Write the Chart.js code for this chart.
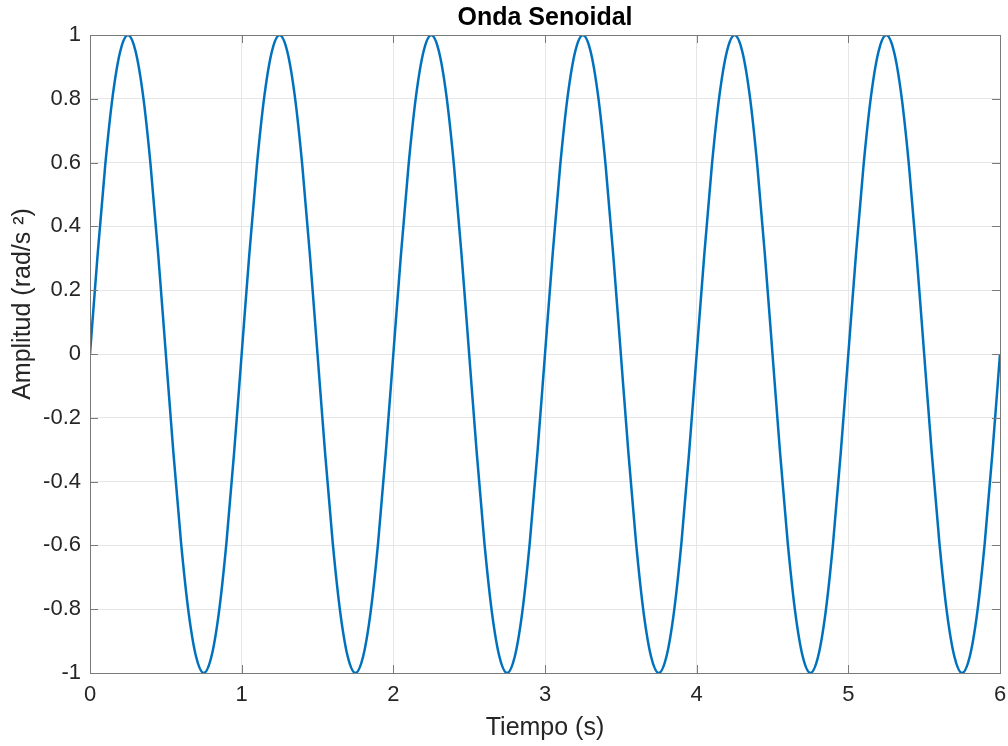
<!DOCTYPE html>
<html>
<head>
<meta charset="utf-8">
<script src="https://cdn.jsdelivr.net/npm/chart.js@4"></script>
<style>
  html, body { margin: 0; padding: 0; background: #fff; }
  #wrap { width: 1008px; height: 746px; }
</style>
</head>
<body>
<div id="wrap"><canvas id="chartSeno" width="1008" height="746"></canvas></div>
<script>
// tiempo (s), leído cada 0.05 s
const tiempo = [
  0, 0.05, 0.1, 0.15, 0.2, 0.25, 0.3, 0.35, 0.4, 0.45,
  0.5, 0.55, 0.6, 0.65, 0.7, 0.75, 0.8, 0.85, 0.9, 0.95,
  1, 1.05, 1.1, 1.15, 1.2, 1.25, 1.3, 1.35, 1.4, 1.45,
  1.5, 1.55, 1.6, 1.65, 1.7, 1.75, 1.8, 1.85, 1.9, 1.95,
  2, 2.05, 2.1, 2.15, 2.2, 2.25, 2.3, 2.35, 2.4, 2.45,
  2.5, 2.55, 2.6, 2.65, 2.7, 2.75, 2.8, 2.85, 2.9, 2.95,
  3, 3.05, 3.1, 3.15, 3.2, 3.25, 3.3, 3.35, 3.4, 3.45,
  3.5, 3.55, 3.6, 3.65, 3.7, 3.75, 3.8, 3.85, 3.9, 3.95,
  4, 4.05, 4.1, 4.15, 4.2, 4.25, 4.3, 4.35, 4.4, 4.45,
  4.5, 4.55, 4.6, 4.65, 4.7, 4.75, 4.8, 4.85, 4.9, 4.95,
  5, 5.05, 5.1, 5.15, 5.2, 5.25, 5.3, 5.35, 5.4, 5.45,
  5.5, 5.55, 5.6, 5.65, 5.7, 5.75, 5.8, 5.85, 5.9, 5.95,
  6
];

// amplitud (rad/s²)
const amplitud = [
  0, 0.31, 0.59, 0.81, 0.95, 1, 0.95, 0.81, 0.59, 0.31,
  0, -0.31, -0.59, -0.81, -0.95, -1, -0.95, -0.81, -0.59, -0.31,
  0, 0.31, 0.59, 0.81, 0.95, 1, 0.95, 0.81, 0.59, 0.31,
  0, -0.31, -0.59, -0.81, -0.95, -1, -0.95, -0.81, -0.59, -0.31,
  0, 0.31, 0.59, 0.81, 0.95, 1, 0.95, 0.81, 0.59, 0.31,
  0, -0.31, -0.59, -0.81, -0.95, -1, -0.95, -0.81, -0.59, -0.31,
  0, 0.31, 0.59, 0.81, 0.95, 1, 0.95, 0.81, 0.59, 0.31,
  0, -0.31, -0.59, -0.81, -0.95, -1, -0.95, -0.81, -0.59, -0.31,
  0, 0.31, 0.59, 0.81, 0.95, 1, 0.95, 0.81, 0.59, 0.31,
  0, -0.31, -0.59, -0.81, -0.95, -1, -0.95, -0.81, -0.59, -0.31,
  0, 0.31, 0.59, 0.81, 0.95, 1, 0.95, 0.81, 0.59, 0.31,
  0, -0.31, -0.59, -0.81, -0.95, -1, -0.95, -0.81, -0.59, -0.31,
  0
];

const xTicks = [0, 1, 2, 3, 4, 5, 6];
const yTicks = [-1, -0.8, -0.6, -0.4, -0.2, 0, 0.2, 0.4, 0.6, 0.8, 1];
const yTitulo = "Amplitud (rad/s ²)";

const puntos = tiempo.map((t, i) => ({ x: t, y: amplitud[i] }));

const fuente = "Liberation Sans, Arial";

// caja alrededor del área, marcas hacia dentro (estilo MATLAB) y título del eje y
const cajaPlugin = {
  id: "caja",
  afterDraw(chart) {
    const { ctx, chartArea: a, scales } = chart;
    ctx.save();
    ctx.strokeStyle = "#7a7a7a";
    ctx.lineWidth = 1;
    ctx.beginPath();
    xTicks.forEach(v => {
      const px = Math.round(scales.x.getPixelForValue(v)) + 0.5;
      ctx.moveTo(px, a.bottom); ctx.lineTo(px, a.bottom - 8);
      ctx.moveTo(px, a.top); ctx.lineTo(px, a.top + 8);
    });
    yTicks.forEach(v => {
      const py = Math.round(scales.y.getPixelForValue(v)) + 0.5;
      ctx.moveTo(a.left, py); ctx.lineTo(a.left + 8, py);
      ctx.moveTo(a.right, py); ctx.lineTo(a.right - 8, py);
    });
    ctx.stroke();
    ctx.strokeRect(Math.round(a.left) + 0.5, Math.round(a.top) + 0.5,
      Math.round(a.right - a.left), Math.round(a.bottom - a.top));

    // el título del eje y queda algo por encima del centro en el original
    ctx.translate(23, 304);
    ctx.rotate(-Math.PI / 2);
    ctx.fillStyle = "#262626";
    ctx.font = "25px " + fuente;
    ctx.textAlign = "center";
    ctx.textBaseline = "middle";
    ctx.fillText(yTitulo, 0, 0);
    ctx.restore();
  }
};

const ctxSeno = document.getElementById("chartSeno").getContext("2d");
new Chart(ctxSeno, {
  type: "line",
  data: {
    datasets: [{
      label: "Seno",
      data: puntos,
      borderColor: "#0072BD",
      borderWidth: 2.5,
      pointRadius: 0,
      fill: false,
      cubicInterpolationMode: "monotone"
    }]
  },
  options: {
    responsive: false,
    animation: false,
    layout: { padding: { left: 0, right: 8, top: 0, bottom: 0 } },
    plugins: {
      legend: { display: false },
      tooltip: { enabled: false },
      title: {
        display: true,
        fullSize: false,
        text: "Onda Senoidal",
        color: "#000",
        font: { family: fuente, size: 25, weight: "bold" },
        padding: { top: 3, bottom: 2 }
      }
    },
    scales: {
      x: {
        type: "linear",
        min: 0,
        max: 6,
        afterFit(s) { s.height = 73; s.paddingLeft = 0; s.paddingRight = 0; },
        afterBuildTicks(s) { s.ticks = xTicks.map(v => ({ value: v })); },
        grid: { color: "#e6e6e6", drawTicks: false },
        border: { display: false },
        ticks: {
          color: "#262626",
          padding: 9,
          maxRotation: 0,
          font: { family: fuente, size: 22 }
        },
        title: {
          display: true,
          text: "Tiempo (s)",
          color: "#262626",
          font: { family: fuente, size: 25 },
          padding: { top: 0, bottom: 3 }
        }
      },
      y: {
        min: -1,
        max: 1,
        afterFit(s) { s.width = 90; },
        afterBuildTicks(s) { s.ticks = yTicks.map(v => ({ value: v })); },
        grid: { color: "#e6e6e6", drawTicks: false },
        border: { display: false },
        ticks: {
          color: "#262626",
          padding: 9,
          font: { family: fuente, size: 22 },
          callback: v => String(Math.round(v * 10) / 10)
        },
        title: { display: false }
      }
    }
  },
  plugins: [cajaPlugin]
});
</script>
</body>
</html>
